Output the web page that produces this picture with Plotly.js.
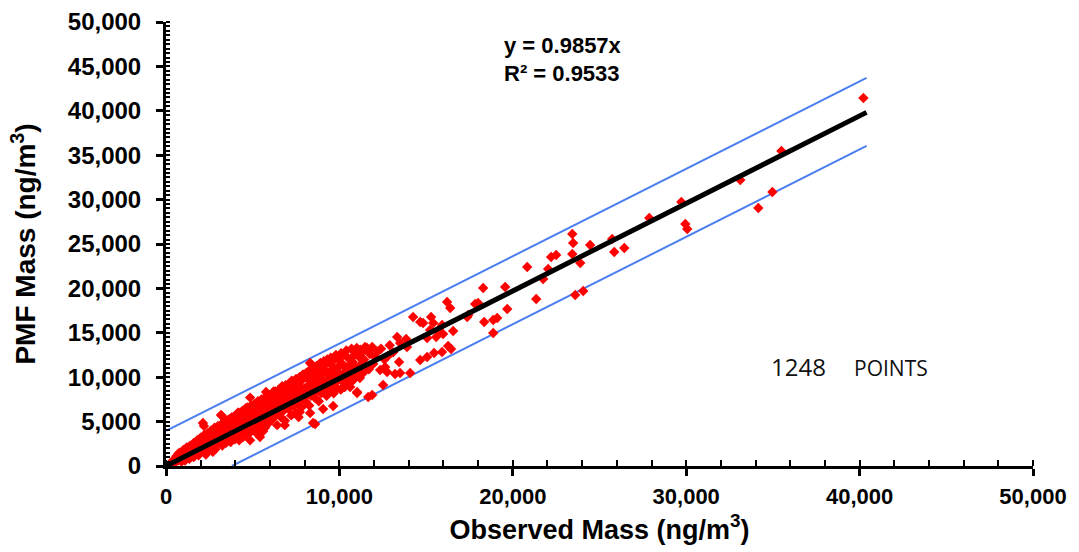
<!DOCTYPE html>
<html>
<head>
<meta charset="utf-8">
<script src="https://cdn.plot.ly/plotly-3.0.1.min.js"></script>
<style>html,body{margin:0;padding:0;background:#fff;}#chart{width:1079px;height:552px;}</style>
</head>
<body>
<div id="chart"></div>
<script>
// Observed vs PMF mass (ng/m3): [observed, pmf]
const massPairs = [
[320,450],[410,600],[480,380],[550,820],[600,520],[390,300],[520,700],[500,650],[600,1100],
[650,900],[700,600],[760,1100],[820,780],[880,1300],[930,700],[980,1050],[720,1400],[900,500],[700,800],[900,1000],[800,1500],
[1020,1500],[1080,900],[1150,1250],[1200,1700],[1260,1000],[1310,1450],[1380,1900],[1420,1150],[1470,1600],[1100,600],[1350,800],[1100,1200],[1250,1350],[1450,1400],[1000,1800],[1200,2100],[1400,2300],
[1520,2100],[1560,1300],[1620,1800],[1680,2300],[1730,1500],[1790,2000],[1850,2600],[1900,1700],[1960,2200],[1600,1000],[1880,1200],[1650,1700],[1800,1850],[1950,2050],[1600,2600],[1800,2900],
[2020,2500],[2070,1900],[2130,4840],[2190,4500],[2150,2800],[2210,2100],[2260,3000],[2320,2400],[2380,1700],[2440,2900],[2480,3300],[2300,1300],[2100,2300],[2250,2400],[2400,2500],[2000,3200],[2200,3500],[2400,3700],
[2530,2600],[2580,3500],[2630,2200],[2690,3100],[2740,3800],[2790,2700],[2850,1900],[2900,3300],[2950,3900],[2980,2500],[2700,1600],[2550,2900],[2700,2800],[2850,3000],[2600,4000],[2800,4300],
[3030,3600],[3080,2800],[3130,4100],[3170,5740],[3230,5630],[3190,3300],[3250,2300],[3300,3900],[3360,4500],[3410,3100],[3460,2600],[3490,4200],[3000,3100],[3150,3300],[3300,3500],[3450,3600],[3000,4500],[3200,4700],[3400,5000],
[3530,3700],[3570,4800],[3620,3200],[3680,4300],[3730,2700],[3780,3900],[3830,5000],[3880,3500],[3940,4600],[3980,3000],[3700,5300],[3600,3800],[3750,3700],[3900,4100],[3600,5200],[3800,5500],
[4030,4100],[4070,5400],[4120,3600],[4170,4700],[4220,2900],[4260,4300],[4310,5600],[4360,3900],[4410,5000],[4460,3300],[4490,4500],[4150,6000],[4050,4200],[4200,4400],[4350,4500],[4000,5700],[4200,6000],[4400,6200],
[4530,5200],[4570,4000],[4620,5900],[4670,3500],[4720,4800],[4770,6200],[4820,4300],[4870,5500],[4920,3900],[4970,5000],[4600,6500],[4850,2900],[4500,4700],[4650,4800],[4800,5000],[4950,5100],[4700,6600],[4900,6800],[4850,7700],
[5030,5800],[5070,4400],[5120,6300],[5170,4900],[5220,3700],[5270,5500],[5310,6700],[5360,4600],[5410,6000],[5460,5100],[5490,4100],[5250,7000],[5100,5300],[5250,5400],[5400,5500],[5100,7000],[5300,7300],[5420,3270],
[5530,6400],[5570,5000],[5620,5700],[5660,7100],[5710,4300],[5770,8330],[5750,6100],[5800,5300],[5850,6800],[5900,4800],[5950,6300],[5980,5700],[5600,3900],[5550,5700],[5700,5900],[5850,6000],[5500,7500],[5700,7700],[5900,7900],
[6030,7400],[6070,6000],[6120,5200],[6170,6700],[6220,7800],[6260,5600],[6310,6400],[6360,7200],[6410,4600],[6450,6900],[6490,5900],[6200,8400],[6400,8000],[6000,6200],[6150,6300],[6300,6500],[6450,6600],[6100,8100],[6300,8400],
[6530,6500],[6570,7600],[6620,5500],[6670,7000],[6720,8300],[6760,6200],[6810,7400],[6860,5100],[6900,8000],[6950,6700],[6990,7300],[6700,9000],[6850,4600],[6600,6800],[6750,6900],[6900,7100],[6500,8600],[6700,8800],[6900,9100],
[7030,7900],[7070,6400],[7120,8600],[7170,7100],[7220,5700],[7260,7700],[7310,9100],[7360,6800],[7410,8200],[7450,7300],[7490,6000],[7250,9600],[7050,7200],[7200,7400],[7350,7500],[7100,9300],[7300,9500],
[7530,8500],[7570,7000],[7620,9300],[7670,7800],[7720,6080],[7730,8100],[7770,8900],[7810,6600],[7860,9700],[7900,7500],[7950,8300],[7990,10200],[7650,5500],[7500,7700],[7650,7800],[7800,8000],[7950,8100],[7500,9800],[7700,10000],[7900,10300],
[8030,8800],[8070,7200],[8120,9900],[8170,8000],[8220,10600],[8260,6800],[8310,11600],[8310,9200],[8360,7900],[8420,11370],[8450,8600],[8490,10000],[8480,4840],[8600,4730],[8100,8300],[8250,8400],[8400,8600],[8100,10500],[8300,10800],[8310,5970],
[8530,9400],[8570,7700],[8620,10800],[8670,8400],[8720,9800],[8760,11200],[8810,7300],[8860,9000],[8900,10400],[8950,8200],[8990,11000],[8550,8700],[8700,8900],[8850,9000],[8500,11000],[8700,11300],[8900,11600],
[9030,9700],[9060,6420],[9080,8700],[9120,10900],[9170,9200],[9220,11500],[9260,7900],[9310,10300],[9360,8500],[9410,11800],[9450,9600],[9490,10700],[9000,9200],[9150,9300],[9300,9500],[9450,9600],[9100,11800],[9300,12000],
[9530,9000],[9570,11300],[9640,6760],[9620,10000],[9670,8200],[9720,12000],[9760,9400],[9810,10600],[9860,8800],[9920,12270],[9900,11100],[9950,9800],[9600,9700],[9750,9900],[9900,10000],[9500,12200],[9800,12500],[9870,12160],
[10030,10400],[10080,8600],[10120,11600],[10170,9500],[10220,12500],[10260,10100],[10310,8900],[10360,11000],[10440,12270],[10410,9800],[10460,10700],[10050,10200],[10200,10300],[10350,10500],[10100,12700],[10400,13000],
[10530,11300],[10570,9300],[10620,8900],[10670,12100],[10720,10200],[10770,11700],[10820,9700],[10870,12800],[10900,10250],[10950,11000],[10500,10600],[10700,10800],[10700,13200],
[11020,8330],[11020,12840],[11020,8220],[11080,10600],[11130,12300],[11180,9900],[11230,11400],[11310,12840],[11370,10470],[11420,12000],[11480,13400],[11000,13300],[11200,13100],
[11600,13290],[11660,7770],[11700,10900],[11750,12600],[11890,13400],[11890,7990],[11950,11500],[12060,12270],
[12200,12900],[12350,10810],[12520,9120],[12640,11150],[12750,10580],[12400,13200],[12800,12400],[12900,13600],[13210,10360],[13330,14530],[13440,11710],[13500,13850],[13500,10470],[13850,14300],[13900,13400],[14080,10470],[13100,12800],[12600,12000],
[14250,16780],[14660,16210],[14830,16100],[15290,16780],[15410,16100],[15230,15310],[15690,15200],[15920,15880],[15060,14410],[15580,14530],[15980,14860],[16560,15200],[16270,13510],[16440,13170],[15920,12840],[15460,12720],[15060,12270],[14660,11940],
[17430,17000],[16210,18470],[16390,17790],[17370,16780],[17830,18240],[18000,18350],[18290,20040],[18350,16210],[18870,16440],[19100,16670],[18870,14980],[19680,17680],[19560,20160],
[20830,22410],[21350,18800],[21750,21060],[22040,22180],[22210,23530],[22500,23760],[23430,26120],[23480,25110],[23430,23870],[23890,22860],[24060,19700],[23600,19250],
[24460,24880],[25730,25560],[25850,24100],[26430,24550],[27870,27920],[29720,29730],[29950,27250],[30060,26690],
[33120,32200],[34160,29050],[34970,30850],[35490,35470],[40220,41440]
];
const observedMass = massPairs.map(p => p[0]);
const pmfMass = massPairs.map(p => p[1]);

// Regression line y = 0.9857x and the two bounding lines (end points)
const trendX = [0, 40400];
const trendY = [0, 39822];
const upperX = [0, 40400];
const upperY = [3950, 43700];
const lowerX = [3800, 40400];
const lowerY = [0, 36050];

const xTicks = [0, 10000, 20000, 30000, 40000, 50000];
const yTicks = [0, 5000, 10000, 15000, 20000, 25000, 30000, 35000, 40000, 45000, 50000];
const tickText = v => v.toLocaleString('en-US');

const traces = [
  {x: upperX, y: upperY, mode: 'lines', line: {color: '#4b7ef0', width: 2}, hoverinfo: 'skip'},
  {x: lowerX, y: lowerY, mode: 'lines', line: {color: '#4b7ef0', width: 2}, hoverinfo: 'skip'},
  {x: observedMass, y: pmfMass, mode: 'markers', type: 'scatter',
   marker: {symbol: 'diamond', size: 8, color: '#ff0000', line: {width: 0}}},
  {x: trendX, y: trendY, mode: 'lines', line: {color: '#000000', width: 5}, hoverinfo: 'skip'}
];

const boldFont = {family: 'Liberation Sans, Arial, sans-serif', color: '#000', weight: 'bold'};
const f = (size, base) => Object.assign({size: size}, base);

const layout = {
  width: 1079, height: 552,
  margin: {l: 166, r: 46, t: 22, b: 86},
  paper_bgcolor: '#fff', plot_bgcolor: '#fff',
  showlegend: false,
  xaxis: {
    range: [0, 50000], showgrid: false, zeroline: false,
    showline: true, linecolor: '#000', linewidth: 3,
    tickmode: 'array', tickvals: xTicks, ticktext: xTicks.map(tickText),
    ticks: 'outside', ticklen: 7, tickwidth: 3, tickcolor: '#000',
    tickfont: f(22, boldFont), ticklabelstandoff: 2,
    minor: {dtick: 2000, ticks: 'inside', ticklen: 6, tickwidth: 2, tickcolor: '#000', showgrid: false},
    title: {text: 'Observed Mass (ng/m<sup>3</sup>)', font: f(27, boldFont), standoff: 12}
  },
  yaxis: {
    range: [0, 50000], showgrid: false, zeroline: false,
    showline: true, linecolor: '#000', linewidth: 3,
    tickmode: 'array', tickvals: yTicks, ticktext: yTicks.map(tickText),
    ticks: 'outside', ticklen: 7, tickwidth: 3, tickcolor: '#000',
    tickfont: f(24, boldFont), ticklabelstandoff: 10,
    minor: {dtick: 500, ticks: 'inside', ticklen: 4, tickwidth: 2, tickcolor: '#000', showgrid: false},
    title: {text: 'PMF Mass (ng/m<sup>3</sup>)', font: f(28, boldFont), standoff: 24}
  },
  annotations: [
    {xref: 'paper', yref: 'paper', x: 0.3875, y: 0.947, xanchor: 'left', yanchor: 'middle', showarrow: false,
     text: 'y = 0.9857x', font: f(22, boldFont)},
    {xref: 'paper', yref: 'paper', x: 0.3875, y: 0.885, xanchor: 'left', yanchor: 'middle', showarrow: false,
     text: 'R² = 0.9533', font: f(22, boldFont)},
    {xref: 'paper', yref: 'paper', x: 0.730, y: 0.223, xanchor: 'center', yanchor: 'middle', showarrow: false,
     text: '1248', font: {family: 'Open Sans, Noto Sans, sans-serif', size: 24, color: '#111'}},
    {xref: 'paper', yref: 'paper', x: 0.836, y: 0.221, xanchor: 'center', yanchor: 'middle', showarrow: false,
     text: 'POINTS', font: {family: 'Open Sans, Noto Sans, sans-serif', size: 21, color: '#111'}}
  ]
};

Plotly.newPlot('chart', traces, layout, {displayModeBar: false, staticPlot: true});
</script>
</body>
</html>
